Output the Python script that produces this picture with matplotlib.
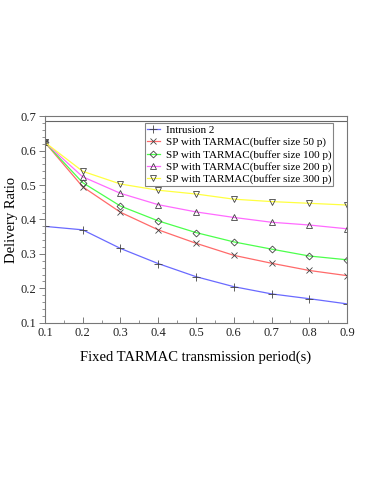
import matplotlib
matplotlib.use("Agg")
import matplotlib.pyplot as plt
from matplotlib.ticker import MultipleLocator

plt.rcParams['font.family'] = ['Liberation Serif', 'DejaVu Serif']

x = [0.1, 0.2, 0.3, 0.4, 0.5, 0.6, 0.7, 0.8, 0.9]
intrusion2 = [0.380, 0.370, 0.316, 0.272, 0.234, 0.205, 0.184, 0.170, 0.155]
buf50 = [0.624, 0.495, 0.421, 0.370, 0.331, 0.296, 0.273, 0.252, 0.237]
buf100 = [0.624, 0.507, 0.439, 0.396, 0.362, 0.335, 0.314, 0.294, 0.283]
buf200 = [0.624, 0.524, 0.476, 0.443, 0.422, 0.406, 0.392, 0.384, 0.373]
buf300 = [0.624, 0.540, 0.503, 0.485, 0.474, 0.459, 0.452, 0.447, 0.442]
labels = ["Intrusion 2",
          "SP with TARMAC(buffer size 50 p)",
          "SP with TARMAC(buffer size 100 p)",
          "SP with TARMAC(buffer size 200 p)",
          "SP with TARMAC(buffer size 300 p)"]
ref_line = 0.685

fig = plt.figure(figsize=(3.74, 4.84), dpi=100)
ax = fig.add_axes([0.120, 0.333, 0.808, 0.427])

series = [intrusion2, buf50, buf100, buf200, buf300]
colors = ['#6a6aff', '#ff6a6a', '#4cff4c', '#ff6aff', '#ffff40']
markers = ['+', 'x', 'D', '^', 'v']
msizes = [5.5, 5, 3.5, 4.5, 4.5]
mec = '#444444'
for s, c, m, ms, lab in zip(series, colors, markers, msizes, labels):
    ax.plot(x, s, color=c, lw=0.9, marker=m, markersize=ms,
            markerfacecolor='none', markeredgecolor=mec, markeredgewidth=0.6,
            label=lab)

ax.axhline(ref_line, color='#666666', lw=0.8)

ax.set_xlim(0.1, 0.9)
ax.set_ylim(0.1, 0.7)
ax.xaxis.set_major_locator(MultipleLocator(0.1))
ax.xaxis.set_minor_locator(MultipleLocator(0.05))
ax.yaxis.set_major_locator(MultipleLocator(0.1))
ax.yaxis.set_minor_locator(MultipleLocator(0.02))
ax.tick_params(which='both', colors='#666666', labelcolor='#222222', labelsize=9)
ax.tick_params(axis='x', which='both', direction='in', pad=3)
ax.tick_params(axis='y', which='both', direction='out', pad=2)
ax.tick_params(which='major', length=4, width=0.6)
ax.tick_params(which='minor', length=2, width=0.5)
for sp in ax.spines.values():
    sp.set_color('#777777')
    sp.set_linewidth(0.8)

ax.set_ylabel('Delivery Ratio', fontsize=10.5)
ax.yaxis.set_label_coords(-0.088, 0.5)
ax.set_xlabel('Fixed TARMAC transmission period(s)', fontsize=10.5, labelpad=8)

leg = ax.legend(loc='upper right', bbox_to_anchor=(0.955, 0.966), fontsize=8.0,
                frameon=True, fancybox=False, borderpad=0.2, labelspacing=0.2,
                handlelength=1.2, handletextpad=0.5, borderaxespad=0.0)
leg.get_frame().set_edgecolor('#666666')
leg.get_frame().set_linewidth(0.8)

fig.savefig('out.png', dpi=100)
